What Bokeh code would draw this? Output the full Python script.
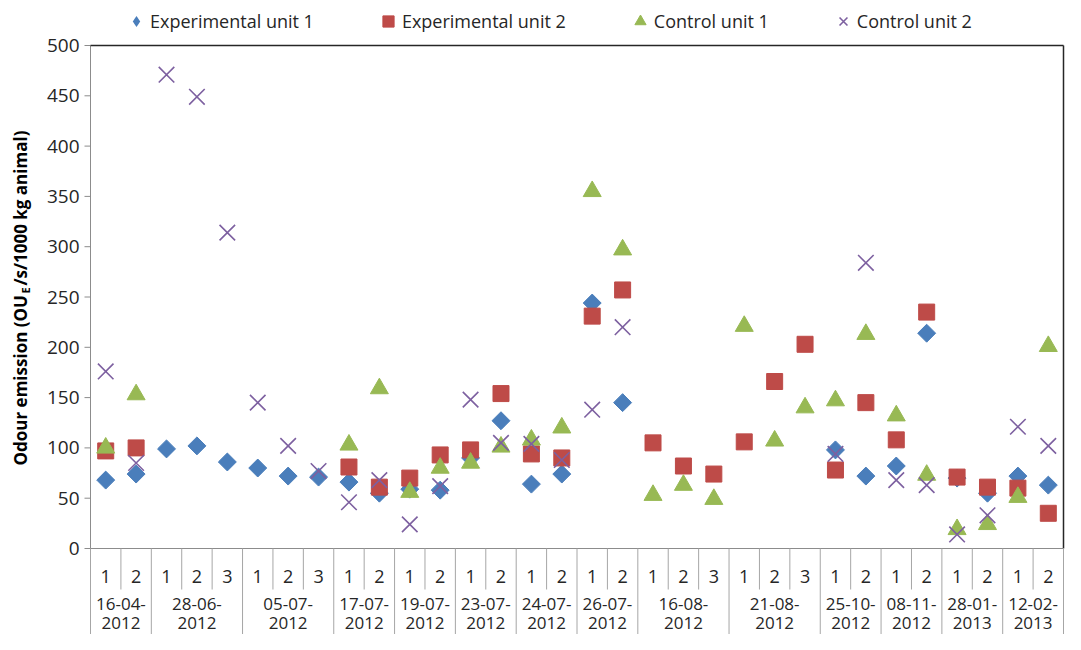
import math
import numpy as np
from bokeh.plotting import figure
from bokeh.models import Range1d, Legend, LegendItem, ColumnDataSource
from bokeh.core.properties import value
from bokeh.embed import file_html
from bokeh.resources import INLINE

nan = float("nan")

# ---------------- data ----------------
dates = ["16-04-2012", "28-06-2012", "05-07-2012", "17-07-2012", "19-07-2012",
         "23-07-2012", "24-07-2012", "26-07-2012", "16-08-2012", "21-08-2012",
         "25-10-2012", "08-11-2012", "28-01-2013", "12-02-2013"]
n_sub = [2, 3, 3, 2, 2, 2, 2, 2, 3, 3, 2, 2, 2, 2]

exp_unit_1 = [68, 74, 99, 102, 86, 80, 72, 71, 66, 55, 59, 58, 90, 127, 64, 74,
              244, 145, nan, nan, nan, nan, nan, nan, 98, 72, 82, 214, 70, 55, 72, 63]
exp_unit_2 = [97, 100, nan, nan, nan, nan, nan, nan, 81, 61, 70, 93, 98, 154, 94, 90,
              231, 257, 105, 82, 74, 106, 166, 203, 78, 145, 108, 235, 71, 61, 60, 35]
ctrl_unit_1 = [100, 153, nan, nan, nan, nan, nan, nan, 103, 159, 56, 80, 85, 101, 108, 120,
               355, 297, 53, 63, 49, 221, 107, 140, 147, 213, 132, 73, 19, 24, 51, 201]
ctrl_unit_2 = [176, 85, 471, 449, 314, 145, 102, 77, 46, 68, 24, 62, 148, 105, 104, 88,
               138, 220, nan, nan, nan, nan, nan, nan, 94, 284, 68, 63, 14, 33, 121, 102]

series_names = ["Experimental unit 1", "Experimental unit 2", "Control unit 1", "Control unit 2"]
y_ticks = [0, 50, 100, 150, 200, 250, 300, 350, 400, 450, 500]
y_title = ["Odour emission (OU", "E", "/s/1000 kg animal)"]

# ---------------- layout / styling ----------------
FONT = "Open Sans"
TXT = "#262626"
GRID = "#a6a6a6"
AXIS = "#8c8c8c"
BLUE, RED, GREEN, PURPLE = "#4A7EBB", "#BE4B48", "#98B954", "#7D60A0"

W, H = 1065, 634
PLOT_L, PLOT_R, PLOT_T = 90, 1063, 45      # pixel edges of the plotting area
PX_PER_UNIT = 1.006
Y_MAX = 500

# category positions
xs, sub_labels = [], []
i = 0
for d, n in zip(dates, n_sub):
    for k in range(n):
        xs.append(i + 0.5)
        sub_labels.append(str(k + 1))
        i += 1
N = i
bounds = np.cumsum([0] + n_sub).astype(float)
group_centers = (bounds[:-1] + bounds[1:]) / 2
sub_bounds = []
for b, n in zip(bounds[:-1], n_sub):
    for k in range(1, n):
        sub_bounds.append(b + k)

S = (PLOT_R - PLOT_L) / N                         # px per category
X_START = -PLOT_L / S
X_END = N + (W - PLOT_R) / S
Y_END = Y_MAX + PLOT_T / PX_PER_UNIT
Y_START = Y_MAX - (H - PLOT_T) / PX_PER_UNIT


def ypx(py):
    """data y of a pixel row"""
    return Y_MAX - (py - PLOT_T) / PX_PER_UNIT


def xpx(px):
    return (px - PLOT_L) / S


p = figure(width=W, height=H, output_backend="svg", toolbar_location=None,
           x_range=Range1d(X_START, X_END), y_range=Range1d(Y_START, Y_END),
           x_axis_location=None, y_axis_location=None,
           min_border=0, min_border_left=0, min_border_right=0,
           min_border_top=0, min_border_bottom=0)
p.outline_line_color = None
p.xgrid.visible = False
p.ygrid.visible = False
p.background_fill_color = "white"
p.border_fill_color = "white"

# ---- value axis ----
p.segment(x0=[0], y0=[Y_START], x1=[0], y1=[Y_MAX], line_color=AXIS, line_width=1)
p.segment(x0=[0] * len(y_ticks), y0=y_ticks, x1=[-6 / S] * len(y_ticks), y1=y_ticks,
          line_color=AXIS, line_width=1)
p.text(x=[-11 / S] * len(y_ticks), y=y_ticks, text=[str(t) for t in y_ticks],
       text_align="right", text_baseline="middle",
       text_font=value(FONT), text_font_size="19px", text_color=TXT)

# ---- frame lines (top / right) and category table ----
p.segment(x0=[0], y0=[Y_MAX], x1=[N], y1=[Y_MAX], line_color="#262626", line_width=1.5)
p.segment(x0=[N], y0=[0], x1=[N], y1=[Y_MAX], line_color="#262626", line_width=1.5)
p.segment(x0=[0], y0=[0], x1=[N], y1=[0], line_color=AXIS, line_width=1)
p.segment(x0=bounds, y0=[0] * len(bounds), x1=bounds, y1=[Y_START] * len(bounds),
          line_color=GRID, line_width=1)
p.segment(x0=sub_bounds, y0=[0] * len(sub_bounds), x1=sub_bounds,
          y1=[ypx(589)] * len(sub_bounds), line_color=GRID, line_width=1)

p.text(x=xs, y=[ypx(576)] * N, text=sub_labels, text_align="center", text_baseline="middle",
       text_font=value(FONT), text_font_size="18px", text_color=TXT)
p.text(x=list(group_centers), y=[ypx(603)] * len(dates), text=[d[:6] for d in dates],
       text_align="center", text_baseline="middle",
       text_font=value(FONT), text_font_size="17px", text_color=TXT)
p.text(x=list(group_centers), y=[ypx(622)] * len(dates), text=[d[6:] for d in dates],
       text_align="center", text_baseline="middle",
       text_font=value(FONT), text_font_size="17px", text_color=TXT)

# ---- value-axis title with subscript ----
TX, TY = xpx(20), ypx(465)
p.text(x=[TX], y=[TY], text=[y_title[0]], angle=math.pi / 2,
       text_align="left", text_baseline="middle", text_font=value(FONT),
       text_font_style="bold", text_font_size="17px", text_color="black")
p.text(x=[TX], y=[TY], text=[y_title[1]], angle=math.pi / 2, x_offset=5, y_offset=-172,
       text_align="left", text_baseline="middle", text_font=value(FONT),
       text_font_style="bold", text_font_size="11px", text_color="black")
p.text(x=[TX], y=[TY], text=[y_title[2]], angle=math.pi / 2, y_offset=-180,
       text_align="left", text_baseline="middle", text_font=value(FONT),
       text_font_style="bold", text_font_size="17px", text_color="black")

# ---- data ----
src = ColumnDataSource(dict(x=np.array(xs, dtype=float),
                            e1=np.array(exp_unit_1, dtype=float),
                            e2=np.array(exp_unit_2, dtype=float),
                            c1=np.array(ctrl_unit_1, dtype=float),
                            c2=np.array(ctrl_unit_2, dtype=float)))
# diamond-shaped key glyph, lying fully inside the rotated-square markers drawn on top
r1_key = p.scatter("x", "e1", source=src, marker="diamond", size=16,
                   fill_color=BLUE, line_color=None)
r1 = p.scatter("x", "e1", source=src, marker="square", angle=math.pi / 4, size=12.7,
               fill_color=BLUE, line_color=BLUE)
r2 = p.scatter("x", "e2", source=src, marker="square", size=16,
               fill_color=RED, line_color=RED)
r3 = p.scatter("x", "c1", source=src, marker="triangle", size=18,
               fill_color=GREEN, line_color=GREEN)
r4 = p.scatter("x", "c2", source=src, marker="x", size=22,
               line_color=PURPLE, line_width=1.6)

legend = Legend(items=[LegendItem(label=series_names[0], renderers=[r1_key]),
                       LegendItem(label=series_names[1], renderers=[r2]),
                       LegendItem(label=series_names[2], renderers=[r3]),
                       LegendItem(label=series_names[3], renderers=[r4])],
                orientation="horizontal", location=(122, H - 35),
                glyph_width=28, glyph_height=28, label_standoff=-4, spacing=60,
                padding=0, margin=0, border_line_color=None, background_fill_alpha=0,
                label_text_font=FONT, label_text_font_size="18px", label_text_color=TXT)
p.add_layout(legend)

open("out.html", "w").write(file_html(p, INLINE))
